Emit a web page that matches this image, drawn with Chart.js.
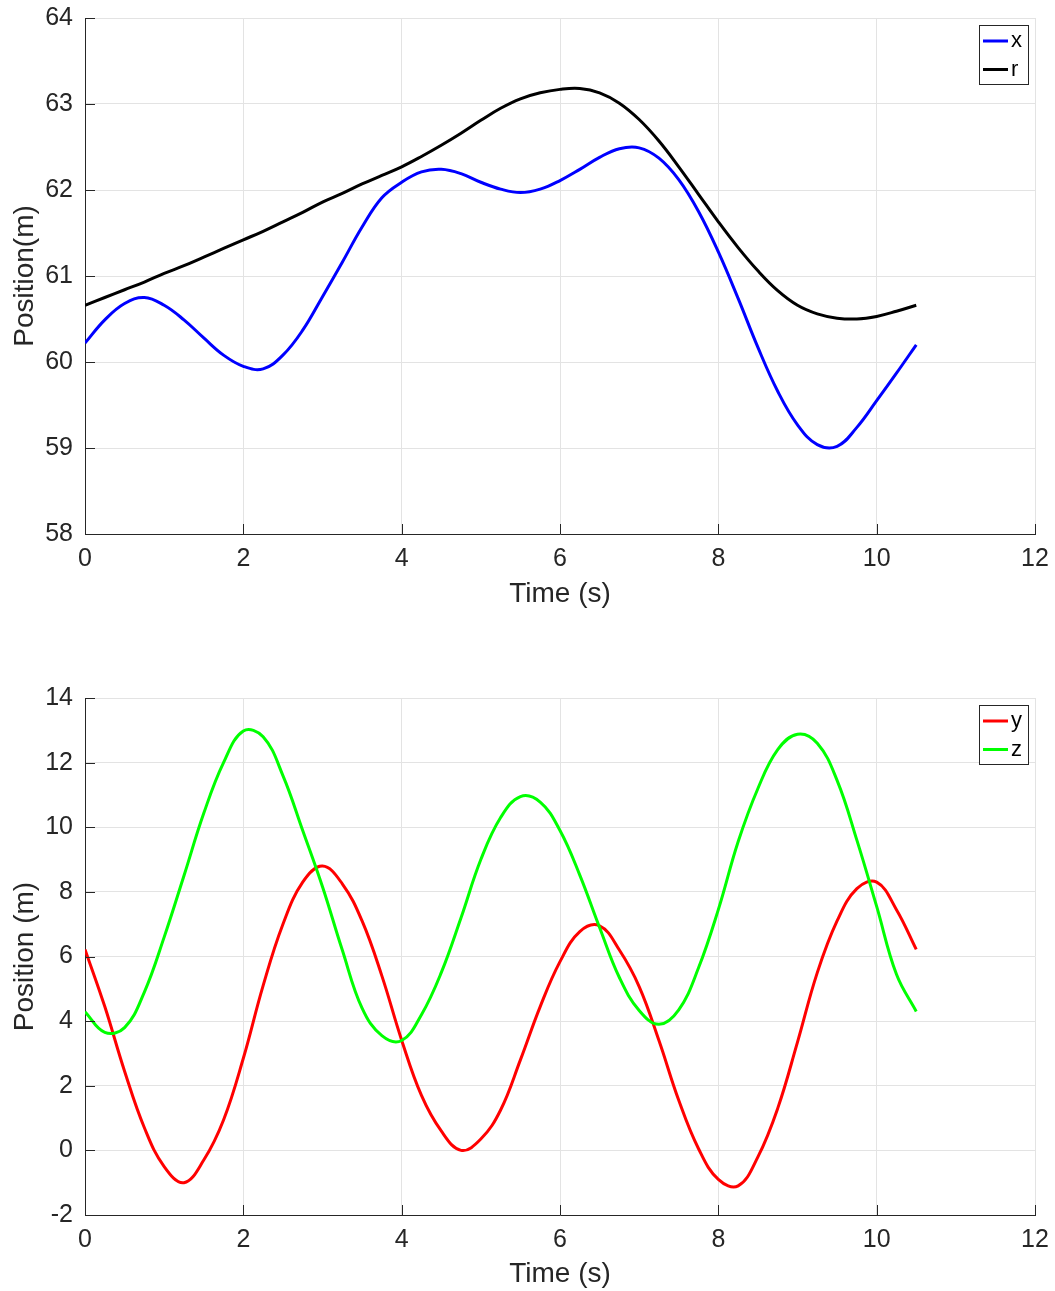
<!DOCTYPE html>
<html>
<head>
<meta charset="UTF-8">
<script src="https://cdn.jsdelivr.net/npm/chart.js@4.4.0/dist/chart.umd.min.js"></script>
<style>
    body {
        margin: 0;
        background: #fff;
    }
    canvas {
        position: absolute;
        left: 0;
    }
</style>
</head>
<body>

<canvas id="xrChart" width="1055" height="620" style="top:0"></canvas>
<canvas id="yzChart" width="1055" height="651" style="top:640px"></canvas>

<script>
// sample times (s)
const time = [0, 0.25, 0.5, 0.75, 1, 1.25, 1.5, 1.75, 2, 2.25, 2.5, 2.75, 3, 3.25, 3.5, 3.75,
              4, 4.25, 4.5, 4.75, 5, 5.25, 5.5, 5.75, 6, 6.25, 6.5, 6.75, 7, 7.25, 7.5, 7.75,
              8, 8.25, 8.5, 8.75, 9, 9.25, 9.5, 9.75, 10, 10.25, 10.5];

// top plot: x and r (m)
const xPos = [60.22, 60.49, 60.68, 60.75, 60.66, 60.49, 60.28, 60.08, 59.95, 59.92, 60.08, 60.37,
              60.76, 61.16, 61.57, 61.91, 62.09, 62.21, 62.24, 62.19, 62.09, 62.01, 61.97, 62.01,
              62.11, 62.24, 62.38, 62.48, 62.49, 62.37, 62.12, 61.75, 61.28, 60.74, 60.17, 59.66,
              59.27, 59.04, 59.02, 59.24, 59.55, 59.87, 60.20];
const rPos = [60.66, 60.75, 60.84, 60.93, 61.03, 61.12, 61.22, 61.32, 61.42, 61.52, 61.63, 61.74,
              61.86, 61.96, 62.07, 62.17, 62.27, 62.39, 62.52, 62.66, 62.81, 62.95, 63.06, 63.13,
              63.17, 63.18, 63.13, 63.01, 62.82, 62.57, 62.27, 61.95, 61.63, 61.33, 61.06, 60.83,
              60.66, 60.56, 60.51, 60.50, 60.53, 60.59, 60.66];

// bottom plot: y and z (m)
const yPos = [6.22, 4.45, 2.45, 0.70, -0.50, -1.00, -0.30, 0.94, 2.85, 5.10, 7.00, 8.30,
              8.80, 8.25, 7.10, 5.40, 3.41, 1.70, 0.60, 0.00, 0.35, 1.25, 2.80, 4.45,
              5.84, 6.77, 6.95, 6.20, 5.07, 3.40, 1.55, 0.05, -0.90, -1.10, -0.20, 1.30,
              3.35, 5.50, 7.10, 8.10, 8.30, 7.45, 6.22];
const zPos = [4.29, 3.65, 3.80, 4.90, 6.60, 8.50, 10.43, 12.00, 12.98, 12.80, 11.60, 9.90,
              8.16, 6.20, 4.40, 3.55, 3.40, 4.20, 5.50, 7.20, 9.00, 10.30, 10.95, 10.78,
              9.90, 8.52, 6.90, 5.35, 4.33, 3.90, 4.35, 5.65, 7.45, 9.55, 11.20, 12.40,
              12.88, 12.60, 11.45, 9.60, 7.55, 5.45, 4.30];

const xTicks = [0, 12, 2];       // min, max, step
const topYTicks = [58, 64, 1];
const bottomYTicks = [-2, 14, 2];

Chart.defaults.font.family = '"Liberation Sans", Arial, sans-serif';
Chart.defaults.color = '#262626';

// MATLAB style ticks pointing into the axes
const innerTicks = {
    id: 'innerTicks',
    afterDraw(chart) {
        const {ctx, chartArea: a, scales} = chart;
        ctx.save();
        ctx.strokeStyle = '#262626';
        ctx.lineWidth = 1;
        ctx.beginPath();
        scales.x.ticks.forEach(t => {
            const px = Math.round(scales.x.getPixelForValue(t.value)) + 0.5;
            ctx.moveTo(px, a.bottom);
            ctx.lineTo(px, a.bottom - 10);
        });
        scales.y.ticks.forEach(t => {
            const py = Math.round(scales.y.getPixelForValue(t.value)) + 0.5;
            ctx.moveTo(a.left, py);
            ctx.lineTo(a.left + 10, py);
        });
        ctx.stroke();
        ctx.restore();
    }
};

// boxed legend in the upper right corner
const boxLegend = {
    id: 'boxLegend',
    afterDraw(chart) {
        const {ctx, chartArea: a} = chart;
        const w = 49, h = 59;
        const x0 = a.right - 7 - w, y0 = a.top + 7;
        ctx.save();
        ctx.fillStyle = '#fff';
        ctx.fillRect(x0, y0, w, h);
        ctx.strokeStyle = '#262626';
        ctx.lineWidth = 1;
        ctx.strokeRect(x0 + 0.5, y0 + 0.5, w, h);
        chart.data.datasets.forEach((ds, i) => {
            const ly = y0 + 16 + i * 28.5;
            ctx.strokeStyle = ds.borderColor;
            ctx.lineWidth = 3;
            ctx.beginPath();
            ctx.moveTo(x0 + 4, ly);
            ctx.lineTo(x0 + 29, ly);
            ctx.stroke();
            ctx.fillStyle = '#000';
            ctx.font = '22px "Liberation Sans", Arial, sans-serif';
            ctx.textBaseline = 'middle';
            ctx.fillText(ds.label, x0 + 32, ly);
        });
        ctx.restore();
    }
};

function series(label, values, color, order) {
    return {
        label: label,
        data: time.map((t, i) => ({x: t, y: values[i]})),
        borderColor: color,
        borderWidth: 3,
        pointRadius: 0,
        fill: false,
        tension: 0.4,
        order: order
    };
}

function makeChart(id, datasets, yT, yTitle, padTop, xHeight, titlePad) {
    return new Chart(document.getElementById(id), {
        type: 'line',
        data: {datasets: datasets},
        options: {
            responsive: false,
            animation: false,
            layout: {padding: {top: padTop, right: 20, left: 0, bottom: 0}},
            plugins: {legend: {display: false}, tooltip: {enabled: false}},
            scales: {
                x: {
                    type: 'linear',
                    min: xTicks[0], max: xTicks[1],
                    ticks: {stepSize: xTicks[2], padding: 0, maxRotation: 0, font: {size: 25}},
                    grid: {color: '#e3e3e3', drawTicks: true, tickLength: 10, tickColor: 'rgba(0,0,0,0)'},
                    border: {color: '#262626'},
                    title: {display: true, text: 'Time (s)', font: {size: 28}, padding: {top: 0, bottom: titlePad}},
                    afterFit(s) { s.height = xHeight; }
                },
                y: {
                    min: yT[0], max: yT[1],
                    ticks: {stepSize: yT[2], padding: 0, font: {size: 25}},
                    grid: {color: '#e3e3e3', drawTicks: true, tickLength: 12, tickColor: 'rgba(0,0,0,0)'},
                    border: {color: '#262626'},
                    title: {display: true, text: yTitle, font: {size: 28}, padding: {top: 8, bottom: 0}},
                    afterFit(s) { s.width = 85; }
                }
            }
        },
        plugins: [innerTicks, boxLegend]
    });
}

makeChart('xrChart',
    [series('x', xPos, '#0000ff', 1), series('r', rPos, '#000000', 0)],
    topYTicks, 'Position(m)', 18, 86, 9);

makeChart('yzChart',
    [series('y', yPos, '#ff0000', 1), series('z', zPos, '#00ff00', 0)],
    bottomYTicks, 'Position (m)', 58, 76, 0);
</script>

</body>
</html>
